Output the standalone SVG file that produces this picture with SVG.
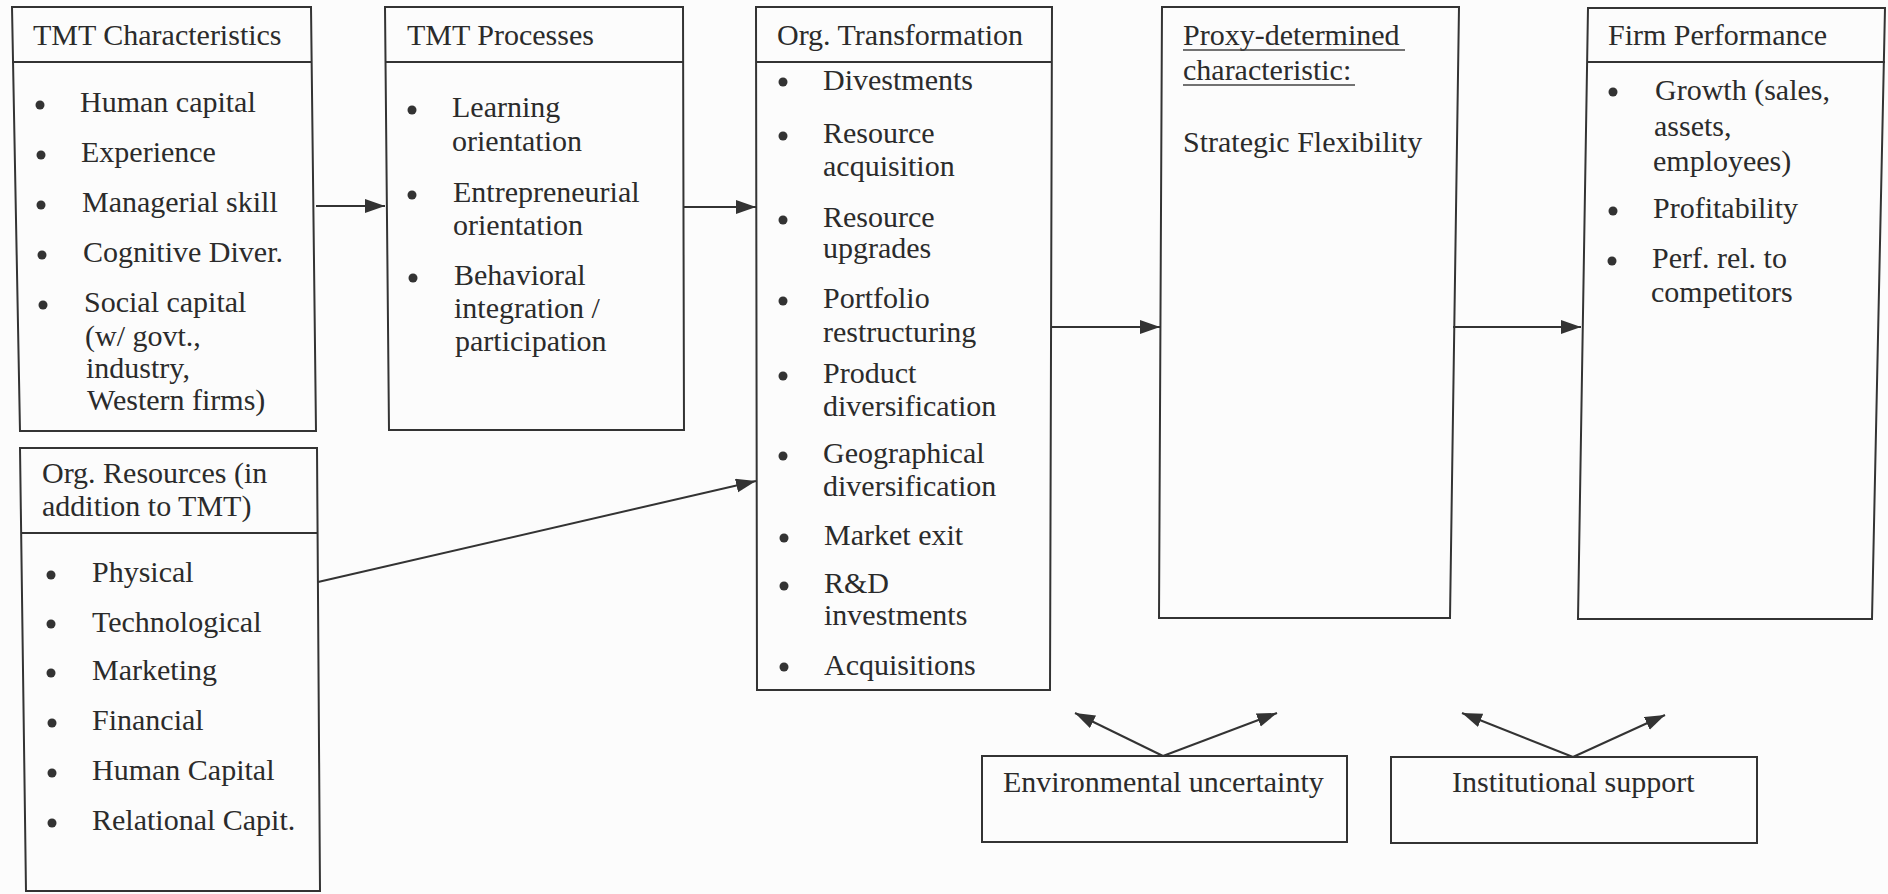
<svg xmlns="http://www.w3.org/2000/svg" width="1888" height="894" viewBox="0 0 1888 894">
<defs>
<marker id="ah" markerUnits="userSpaceOnUse" markerWidth="22" markerHeight="16" refX="20" refY="7" orient="auto">
<path d="M0,0 L20,7 L0,14 z" fill="#333"/>
</marker>
<style>
.box{fill:none;stroke:#333;stroke-width:2}
.t{font-family:"Liberation Serif","Times New Roman",serif;font-size:30px;fill:#2b2b2b}
.b{fill:#333}
.c{stroke:#333;stroke-width:2;fill:none;marker-end:url(#ah)}
.u{stroke:#444;stroke-width:1.5}
</style>
</defs>
<rect width="1888" height="894" fill="#fcfcfc"/>

<g id="tmt-characteristics">
<path class="box" d="M12,7 L311,7 L316,431 L20,431 Z"/>
<line class="box" x1="12" y1="62" x2="311" y2="62"/>
<text class="t" x="33" y="45">TMT Characteristics</text>
<circle class="b" cx="40" cy="105" r="4.5"/><text class="t" x="80" y="112">Human capital</text>
<circle class="b" cx="41" cy="155" r="4.5"/><text class="t" x="81" y="162">Experience</text>
<circle class="b" cx="41" cy="205" r="4.5"/><text class="t" x="82" y="212">Managerial skill</text>
<circle class="b" cx="42" cy="255" r="4.5"/><text class="t" x="83" y="262">Cognitive Diver.</text>
<circle class="b" cx="43" cy="305" r="4.5"/><text class="t" x="84" y="312">Social capital</text>
<text class="t" x="85" y="346">(w/ govt.,</text>
<text class="t" x="86" y="378">industry,</text>
<text class="t" x="87" y="410">Western firms)</text>
</g>

<g id="tmt-processes">
<path class="box" d="M385,7 L683,7 L684,430 L389,430 Z"/>
<line class="box" x1="385" y1="62" x2="683" y2="62"/>
<text class="t" x="407" y="45">TMT Processes</text>
<circle class="b" cx="412" cy="110" r="4.5"/><text class="t" x="452" y="117">Learning</text>
<text class="t" x="452" y="151">orientation</text>
<circle class="b" cx="412" cy="195" r="4.5"/><text class="t" x="453" y="202">Entrepreneurial</text>
<text class="t" x="453" y="235">orientation</text>
<circle class="b" cx="413" cy="278" r="4.5"/><text class="t" x="454" y="285">Behavioral</text>
<text class="t" x="454" y="318">integration /</text>
<text class="t" x="455" y="351">participation</text>
</g>

<g id="org-transformation">
<path class="box" d="M756,7 L1052,7 L1050,690 L757,690 Z"/>
<line class="box" x1="756" y1="62" x2="1052" y2="62"/>
<text class="t" x="777" y="45">Org. Transformation</text>
<circle class="b" cx="783" cy="82" r="4.5"/><text class="t" x="823" y="90">Divestments</text>
<circle class="b" cx="783" cy="136" r="4.5"/><text class="t" x="823" y="143">Resource</text>
<text class="t" x="823" y="176">acquisition</text>
<circle class="b" cx="783" cy="220" r="4.5"/><text class="t" x="823" y="227">Resource</text>
<text class="t" x="823" y="258">upgrades</text>
<circle class="b" cx="783" cy="301" r="4.5"/><text class="t" x="823" y="308">Portfolio</text>
<text class="t" x="823" y="342">restructuring</text>
<circle class="b" cx="783" cy="376" r="4.5"/><text class="t" x="823" y="383">Product</text>
<text class="t" x="823" y="416">diversification</text>
<circle class="b" cx="783" cy="456" r="4.5"/><text class="t" x="823" y="463">Geographical</text>
<text class="t" x="823" y="496">diversification</text>
<circle class="b" cx="784" cy="538" r="4.5"/><text class="t" x="824" y="545">Market exit</text>
<circle class="b" cx="784" cy="586" r="4.5"/><text class="t" x="824" y="593">R&amp;D</text>
<text class="t" x="824" y="625">investments</text>
<circle class="b" cx="784" cy="667" r="4.5"/><text class="t" x="824" y="675">Acquisitions</text>
</g>

<g id="strategic-flexibility">
<path class="box" d="M1162,7 L1459,7 L1450,618 L1159,618 Z"/>
<text class="t" x="1183" y="45">Proxy-determined</text>
<line class="u" x1="1183" y1="50" x2="1405" y2="50"/>
<text class="t" x="1183" y="80">characteristic:</text>
<line class="u" x1="1183" y1="85" x2="1355" y2="85"/>
<text class="t" x="1183" y="152">Strategic Flexibility</text>
</g>

<g id="firm-performance">
<path class="box" d="M1588,8 L1885,8 L1872,619 L1578,619 Z"/>
<line class="box" x1="1588" y1="62" x2="1885" y2="62"/>
<text class="t" x="1608" y="45">Firm Performance</text>
<circle class="b" cx="1613" cy="92" r="4.5"/><text class="t" x="1655" y="100">Growth (sales,</text>
<text class="t" x="1654" y="136">assets,</text>
<text class="t" x="1653" y="171">employees)</text>
<circle class="b" cx="1613" cy="211" r="4.5"/><text class="t" x="1653" y="218">Profitability</text>
<circle class="b" cx="1612" cy="261" r="4.5"/><text class="t" x="1652" y="268">Perf. rel. to</text>
<text class="t" x="1651" y="302">competitors</text>
</g>

<g id="org-resources">
<path class="box" d="M20,448 L317,448 L320,891 L26,891 Z"/>
<line class="box" x1="21" y1="533" x2="317" y2="533"/>
<text class="t" x="42" y="483">Org. Resources (in</text>
<text class="t" x="42" y="516">addition to TMT)</text>
<circle class="b" cx="51" cy="575" r="4.5"/><text class="t" x="92" y="582">Physical</text>
<circle class="b" cx="51" cy="624" r="4.5"/><text class="t" x="92" y="632">Technological</text>
<circle class="b" cx="51" cy="673" r="4.5"/><text class="t" x="92" y="680">Marketing</text>
<circle class="b" cx="52" cy="723" r="4.5"/><text class="t" x="92" y="730">Financial</text>
<circle class="b" cx="52" cy="773" r="4.5"/><text class="t" x="92" y="780">Human Capital</text>
<circle class="b" cx="52" cy="823" r="4.5"/><text class="t" x="92" y="830">Relational Capit.</text>
</g>

<g id="environmental-uncertainty">
<rect class="box" x="982" y="756" width="365" height="86"/>
<text class="t" x="1003" y="792">Environmental uncertainty</text>
</g>

<g id="institutional-support">
<rect class="box" x="1391" y="757" width="366" height="86"/>
<text class="t" x="1452" y="792">Institutional support</text>
</g>

<g id="connectors">
<line class="c" x1="316" y1="206" x2="385" y2="206"/>
<line class="c" x1="684" y1="207" x2="756" y2="207"/>
<line class="c" x1="1051" y1="327" x2="1160" y2="327"/>
<line class="c" x1="1453" y1="327" x2="1581" y2="327"/>
<line class="c" x1="318" y1="582" x2="756" y2="481"/>
<line class="c" x1="1163" y1="756" x2="1075" y2="713"/>
<line class="c" x1="1163" y1="756" x2="1277" y2="713"/>
<line class="c" x1="1573" y1="757" x2="1462" y2="713"/>
<line class="c" x1="1573" y1="757" x2="1665" y2="715"/>
</g>
</svg>
